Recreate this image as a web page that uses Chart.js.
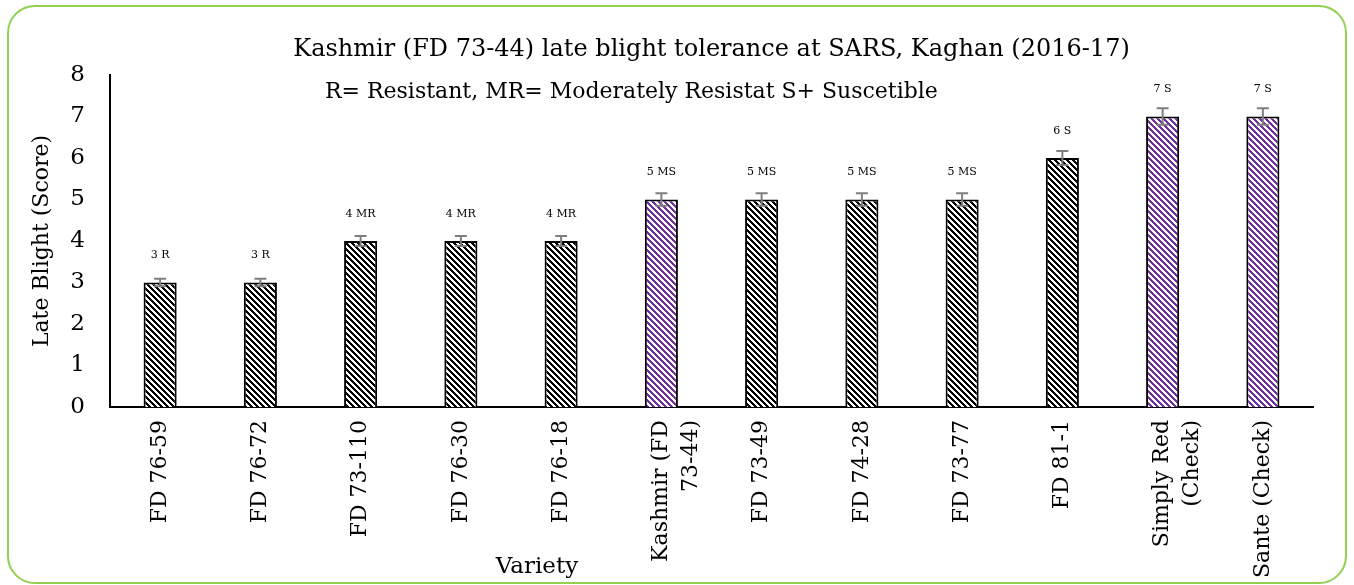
<!DOCTYPE html>
<html>
<head>
<meta charset="utf-8">
<script src="https://cdn.jsdelivr.net/npm/chart.js@4/dist/chart.umd.min.js"></script>
<style>
  html, body { margin: 0; padding: 0; background: #fff; }
  #wrap { width: 1354px; height: 585px; position: relative; }
</style>
</head>
<body>
<div id="wrap"><canvas id="myChart"></canvas></div>
<script>
// eje X
var labels = ['FD 76-59', 'FD 76-72', 'FD 73-110', 'FD 76-30', 'FD 76-18', ['Kashmir (FD', '73-44)'],
  'FD 73-49', 'FD 74-28', 'FD 73-77', 'FD 81-1', ['Simply Red', '(Check)'], 'Sante (Check)'];
// eje Y
var scores = [3, 3, 4, 4, 4, 5, 5, 5, 5, 6, 7, 7];
var errores = [0.09, 0.09, 0.12, 0.12, 0.12, 0.15, 0.15, 0.15, 0.15, 0.17, 0.2, 0.2];
var etiquetas = ['3 R', '3 R', '4 MR', '4 MR', '4 MR', '5 MS', '5 MS', '5 MS', '5 MS', '6 S', '7 S', '7 S'];
var esMorado = [false, false, false, false, false, true, false, false, false, false, true, true];

var fuente = '"DejaVu Serif", "Liberation Serif", serif';

function rayas(color) {
  var p = 6;
  var c = document.createElement('canvas');
  c.width = p; c.height = p;
  var g = c.getContext('2d');
  g.fillStyle = '#fff';
  g.fillRect(0, 0, p, p);
  g.fillStyle = color;
  for (var x = 0; x < p; x++) {
    for (var y = 0; y < p; y++) {
      if (((x - y + p) % p) < 3) g.fillRect(x, y, 1, 1);
    }
  }
  return g.createPattern(c, 'repeat');
}

var ctx = document.getElementById('myChart').getContext('2d');
var negro = rayas('#000000');
var morado = rayas('#7030A0');
var fondos = esMorado.map(function (m) { return m ? morado : negro; });

var extras = {
  id: 'extras',
  afterDatasetsDraw: function (chart) {
    var c = chart.ctx;
    var y = chart.scales.y;
    var meta = chart.getDatasetMeta(0);
    c.save();
    // barras de error
    c.strokeStyle = '#7f7f7f';
    c.lineWidth = 2;
    for (var i = 0; i < scores.length; i++) {
      var bx = meta.data[i].x;
      var top = y.getPixelForValue(scores[i] + errores[i]);
      var bot = y.getPixelForValue(scores[i] - errores[i]);
      c.beginPath();
      c.moveTo(bx, top); c.lineTo(bx, bot);
      c.moveTo(bx - 6, top); c.lineTo(bx + 6, top);
      c.moveTo(bx - 6, bot); c.lineTo(bx + 6, bot);
      c.stroke();
    }
    // etiquetas
    c.fillStyle = '#000';
    c.font = '11px ' + fuente;
    c.textAlign = 'center';
    c.textBaseline = 'middle';
    for (var i = 0; i < scores.length; i++) {
      c.fillText(etiquetas[i], meta.data[i].x, y.getPixelForValue(scores[i]) - 27);
    }
    // titulos
    var area = chart.chartArea;
    c.font = '24px ' + fuente;
    c.fillText('Kashmir (FD 73-44) late blight tolerance at SARS, Kaghan (2016-17)', (area.left + area.right) / 2, 50);
    c.font = '22px ' + fuente;
    c.textAlign = 'left';
    c.fillText('R= Resistant, MR= Moderately Resistat S+ Suscetible', 325, 92);
    c.textAlign = 'center';
    c.font = '23px ' + fuente;
    c.fillText('Variety', 537, 567);
    c.font = '22px ' + fuente;
    c.translate(42, (area.top + area.bottom) / 2);
    c.rotate(-Math.PI / 2);
    c.fillText('Late Blight (Score)', 0, 0);
    c.restore();
  },
  afterDraw: function (chart) {
    var c = chart.ctx;
    c.save();
    c.strokeStyle = '#92D050';
    c.lineWidth = 2;
    c.beginPath();
    c.roundRect(8, 6, 1338, 577, 27);
    c.stroke();
    c.restore();
  }
};

var myChart = new Chart(ctx, {
  type: 'bar',
  data: {
    labels: labels,
    datasets: [{
      label: 'Late Blight',
      data: scores,
      backgroundColor: fondos,
      borderColor: '#000',
      borderWidth: 2,
      barPercentage: 0.33,
      categoryPercentage: 1
    }]
  },
  options: {
    responsive: true,
    maintainAspectRatio: false,
    animation: false,
    layout: { padding: { top: 75, right: 41, left: 0, bottom: 0 } },
    plugins: { legend: { display: false }, tooltip: { enabled: false } },
    scales: {
      x: {
        grid: { display: false, drawTicks: false },
        border: { color: '#000', width: 2 },
        ticks: { color: '#000', font: { family: fuente, size: 22, lineHeight: 1.35 }, maxRotation: 90, minRotation: 90, padding: 13, autoSkip: false },
        afterFit: function (s) { s.height = 178; }
      },
      y: {
        min: 0, max: 8,
        grid: { display: false, drawTicks: false },
        border: { color: '#000', width: 2 },
        ticks: { stepSize: 1, color: '#000', font: { family: fuente, size: 23 }, padding: 25 },
        afterFit: function (s) { s.width = 110; }
      }
    }
  },
  plugins: [extras]
});
</script>
</body>
</html>
